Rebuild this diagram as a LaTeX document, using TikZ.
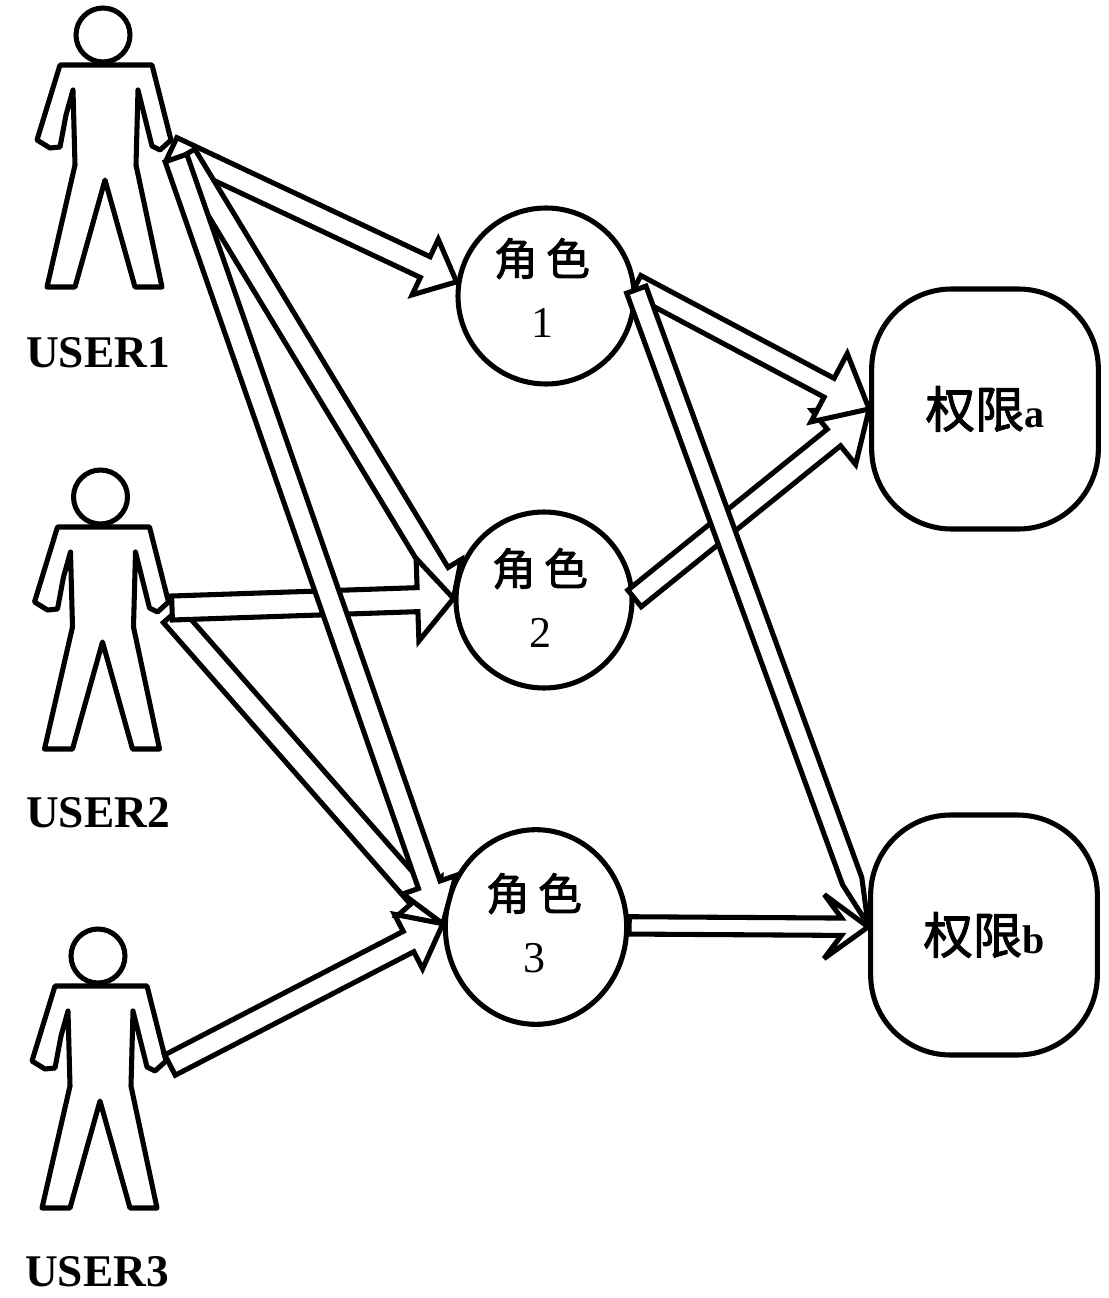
\documentclass[tikz,border=0pt]{standalone}
\usepackage{fontspec}
\setmainfont{Liberation Serif}
\newfontfamily\cjk[FakeBold=2]{Noto Sans CJK SC}
\usetikzlibrary{calc,shapes.geometric}
\tikzset{
  ink/.style={draw=black,line width=3.8pt,line join=round},
  hollow/.style={ink,fill=white,line join=miter,miter limit=3},
  role/.style={ink,circle,minimum size=132pt,inner sep=0pt,align=center,
    font=\fontsize{33pt}{47pt}\selectfont},
  perm/.style={ink,rounded corners=60pt,minimum width=170pt,minimum height=180pt,inner sep=0pt,
    font=\fontsize{37pt}{40pt}\selectfont},
  userlabel/.style={inner sep=0pt,font=\bfseries\fontsize{34pt}{36pt}\selectfont},
  person/.pic={
    \draw[ink] (103,35) circle [radius=27*0.75pt];
    \draw[ink] (60,65) -- (152,65) -- (171,140) -- (160,150) -- (152,146) -- (138,90) -- (136,165)
      -- (162,287) -- (135,287) -- (105,180) -- (75,287) -- (47,287) -- (75,165)
      -- (73,90) -- (66,115) -- (60,147) -- (50,148) -- (37,140) -- cycle;
    \coordinate (-hand) at (172,148);
  }
}
\newcommand\rolelabel[2]{{\cjk 角\hspace{6pt}色}\hspace*{#2}\\#1\hspace*{#2}}
% #1 from, #2 to, #3 half shaft, #4 barb distance from tip, #5 half head, #6 neck distance from tip (pt)
\newcommand\harrow[6]{%
  \coordinate (barb) at ($(#2)!#4!(#1)$);
  \coordinate (neck) at ($(#2)!#6!(#1)$);
  \draw[hollow] ($(#1)!#3!90:(#2)$) -- ($(neck)!#3!90:(#2)$) -- ($(barb)!#5!90:(#2)$)
    -- (#2) -- ($(barb)!#5!-90:(#2)$) -- ($(neck)!#3!-90:(#2)$) -- ($(#1)!#3!-90:(#2)$) -- cycle;
}
\begin{document}
\begin{tikzpicture}[x=0.75pt,y=-0.75pt]
\useasboundingbox (0,0) rectangle (1108,1298);
\pic (u1) at (0,0) {person};
\pic (u2) at (-2.5,462) {person};
\pic (u3) at (-5,921) {person};
\node[userlabel] (l1) at (98,353) {USER1};
\node[userlabel] (l2) at (98,813) {USER2};
\node[userlabel] (l3) at (97,1272) {USER3};

\node[role,text depth=12pt] (r1) at (546,296) {\rolelabel{1}{6pt}};
\node[role,text depth=3pt] (r2) at (544,600) {\rolelabel{2}{6pt}};
\node[role,ellipse,minimum width=136pt,minimum height=146pt,text depth=6pt] (r3) at (536,927) {\rolelabel{3}{3pt}};
\node[perm] (pa) at (985,409) {{\cjk 权限}\fontsize{30pt}{30pt}\selectfont\textbf{a}};
\node[perm] (pb) at (984,935) {{\cjk 权限}\fontsize{30pt}{30pt}\selectfont\textbf{b}};

\harrow{u1-hand}{r1.171}{8.6pt}{26pt}{23pt}{26pt}
\harrow{[shift={(13,7)}]u1-hand}{r2.179}{8.6pt}{22pt}{20pt}{22pt}
\harrow{[shift={(2.5,5)}]u2-hand}{r3.178}{8.6pt}{27pt}{22pt}{27pt}
\harrow{[shift={(2.5,-2)}]u2-hand}{r2.179}{9pt}{27pt}{31pt}{27pt}
\harrow{[shift={(4,10)}]u1-hand}{r3.178}{8.6pt}{31pt}{21pt}{31pt}
\harrow{[shift={(3,-4)}]u3-hand}{r3.178}{8.6pt}{29pt}{23pt}{29pt}
\harrow{r2.1}{pa.west}{8pt}{34pt}{26pt}{34pt}
\harrow{r1.7}{pa.west}{8pt}{34pt}{29pt}{34pt}
\harrow{r1.4}{pb.175}{7.7pt}{35pt}{7.7pt}{35pt}
\harrow{r3.1}{pb.176}{6.5pt}{33pt}{24pt}{20pt}
\end{tikzpicture}
\end{document}
